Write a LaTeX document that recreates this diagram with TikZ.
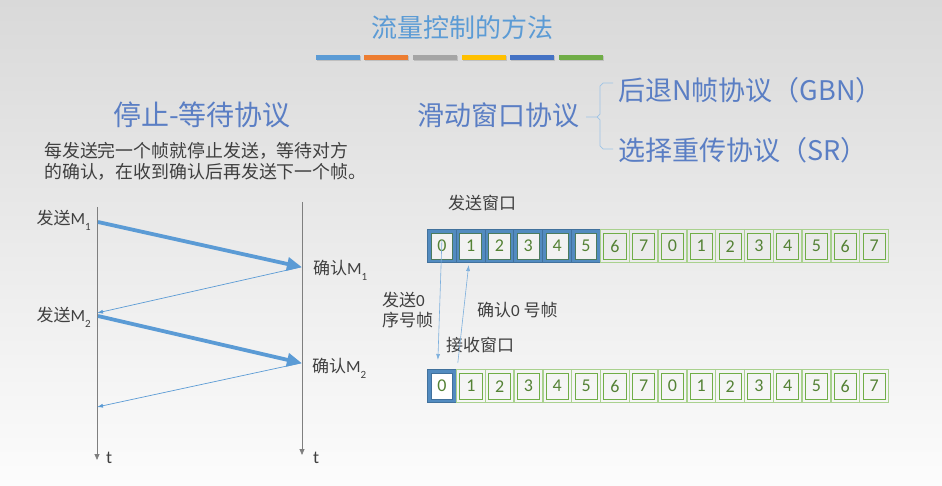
\documentclass[tikz,border=0pt]{standalone}
\usepackage{fontspec}
\setmainfont{Noto Sans CJK SC}
\newfontfamily\lat{Carlito}
\usetikzlibrary{arrows.meta}
\definecolor{txt}{HTML}{3F3F3F}
\definecolor{bgtop}{HTML}{D9D9D9}
\definecolor{bgbot}{HTML}{FCFCFC}
\definecolor{ttl}{HTML}{5B9BD5}
\definecolor{sub}{HTML}{5A7EC4}
\definecolor{cblue}{HTML}{5B9BD5}
\definecolor{corange}{HTML}{ED7D31}
\definecolor{cgray}{HTML}{A5A5A5}
\definecolor{cyellow}{HTML}{FFC000}
\definecolor{cdblue}{HTML}{4472C4}
\definecolor{cgreen}{HTML}{70AD47}
\definecolor{lgreen}{HTML}{A9D18E}
\definecolor{numgreen}{HTML}{548235}
\definecolor{dblue}{HTML}{41719C}
\definecolor{axis}{HTML}{7F7F7F}
\definecolor{brace}{HTML}{9DC3E6}
\newcommand\subidx[1]{\raisebox{-0.35em}{\fontsize{11}{11}\selectfont #1}}
\tikzset{
  lbl/.style={font=\fontsize{17}{17}\selectfont, text=txt},
  cellbase/.style={minimum width=28.8pt, minimum height=33pt, anchor=north west},
  bluecell/.style={cellbase, fill=cblue!90!black, draw=dblue, line width=1pt},
  greencell/.style={cellbase, draw=lgreen, line width=1.4pt},
  innerblue/.style={fill=black!5, draw=numgreen!60!dblue, line width=0.9pt},
  innergreen/.style={draw=cgreen, line width=0.8pt},
  innerwhite/.style={fill=white, draw=dblue, line width=1pt},
  num/.style={font=\lat\fontsize{18}{18}\selectfont, text=numgreen},
  tline/.style={draw=axis, line width=0.8pt, -{Triangle[length=6pt,width=5pt]}},
  thickarr/.style={draw=cblue, line width=3.8pt, -{Triangle[length=15pt,width=13pt]}, shorten >=-1pt},
  thinarr/.style={draw=cblue, line width=0.7pt, -{Latex[length=6pt,width=4pt]}},
  winarr/.style={draw=cblue!80, line width=0.6pt, -{Latex[length=6pt,width=4pt]}},
}
\begin{document}
\begin{tikzpicture}[x=1pt,y=-1pt, every node/.style={inner sep=0pt}]
\shade[top color=bgtop, bottom color=bgbot] (0,0) rectangle (942,486);
\useasboundingbox (0,0) rectangle (942,486);

% title
\node[font=\fontsize{26}{26}\selectfont, text=ttl] (title) at (462,28) {流量控制的方法};
\foreach \x/\c in {316/cblue,364/corange,413/cgray,462/cyellow,510/cdblue,559/cgreen}{
  \fill[black!25] (\x+1,56) rectangle (\x+45,61);
  \fill[\c] (\x,55) rectangle (\x+44,60);
}

% headings
\node[font=\fontsize{28}{28}\selectfont, text=sub] (sw) at (202,115) {停止-等待协议};
\node[font=\fontsize{17.9}{21}\selectfont, text=txt, align=left, anchor=west] (desc) at (44,161.5)
  {每发送完一个帧就停止发送，等待对方\\的确认，在收到确认后再发送下一个帧。};
\node[font=\fontsize{27}{27}\selectfont, text=sub, anchor=west] (slide) at (417,115) {滑动窗口协议};
\node[font=\fontsize{27}{27}\selectfont, text=sub, anchor=west] (gbn) at (618,90) {后退N帧协议（GBN）};
\node[font=\fontsize{27}{27}\selectfont, text=sub, anchor=west] (sr) at (618,150) {选择重传协议（SR）};
\coordinate (bm) at (586,117);
\draw[brace, line width=0.7pt] (bm) -- (597,117) -- (600,114) -- (600,86) -- (603,83) -- (613,83);
\draw[brace, line width=0.7pt] (597,117) -- (600,120) -- (600,146) -- (603,149) -- (613,149);

% timing diagram
\coordinate (Ltop) at (97,207);
\coordinate (Lbot) at (97,460);
\coordinate (Rtop) at (302,202);
\coordinate (Rbot) at (302,455);
\draw[tline] (Ltop) -- (Lbot);
\draw[tline] (Rtop) -- (Rbot);
\node[lbl, font=\lat\fontsize{18}{18}\selectfont, anchor=west] (t1) at (106,458) {t};
\node[lbl, font=\lat\fontsize{18}{18}\selectfont, anchor=west] (t2) at (313,458) {t};

\coordinate (a1) at (98,222);
\coordinate (b1) at (301,267);
\coordinate (a2) at (97,313);
\coordinate (a3) at (98,316);
\coordinate (b2) at (301,363);
\coordinate (a4) at (97,407);
\draw[thickarr] (a1) -- (b1);
\draw[thinarr] (b1) -- (a2);
\draw[thickarr] (a3) -- (b2);
\draw[thinarr] (b2) -- (a4);

\node[lbl, anchor=east] (sm1) at (91,220) {发送{\lat M}\subidx{\lat 1}};
\node[lbl, anchor=east] (sm2) at (91,317) {发送{\lat M}\subidx{\lat 2}};
\node[lbl, anchor=west] (ack1) at (313,270) {确认{\lat M}\subidx{\lat 1}};
\node[lbl, anchor=west] (ack2) at (312,368) {确认{\lat M}\subidx{\lat 2}};

% sliding windows
\node[lbl, anchor=west] (sendw) at (448,203) {发送窗口};
\node[lbl, anchor=west] (recvw) at (446,345) {接收窗口};
\node[lbl, anchor=west, align=left, font=\fontsize{17}{20}\selectfont] (send0) at (382,310) {发送{\lat 0}\\序号帧};
\node[lbl, anchor=west] (ack0) at (477,310) {确认{\lat 0} 号帧};

\foreach \n [count=\i from 0] in {0,1,2,3,4,5,6,7,0,1,2,3,4,5,6,7}{
  \pgfmathsetmacro\xx{427+28.8*\i}
  \ifnum\i<6
    \node[bluecell] (s\i) at (\xx,229) {};
    \draw[innerblue] ([shift={(4,4)}]s\i.north west) rectangle ([shift={(-4,-4)}]s\i.south east);
  \else
    \node[greencell] (s\i) at (\xx,229) {};
    \draw[innergreen] ([shift={(4,4)}]s\i.north west) rectangle ([shift={(-4,-4)}]s\i.south east);
  \fi
  \node[num] at (s\i) {\n};
  \ifnum\i<1
    \node[bluecell] (r\i) at (\xx,369) {};
    \draw[innerwhite] ([shift={(4,4)}]r\i.north west) rectangle ([shift={(-4,-4)}]r\i.south east);
  \else
    \node[greencell] (r\i) at (\xx,369) {};
    \draw[innergreen] ([shift={(4,4)}]r\i.north west) rectangle ([shift={(-4,-4)}]r\i.south east);
  \fi
  \node[num] at (r\i) {\n};
}
\draw[winarr] ([yshift=6]s0.center) -- ([shift={(-4,-9)}]r0.north);
\draw[winarr] ([shift={(1,-6)}]r0.north east) -- ([shift={(-2,2)}]s1.south);
\end{tikzpicture}
\end{document}
